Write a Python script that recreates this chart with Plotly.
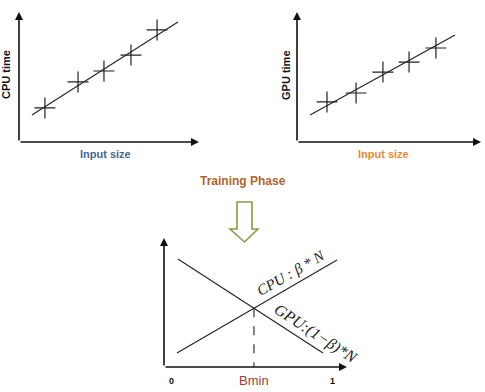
import numpy as np
import plotly.graph_objects as go

W, H = 485, 392

# ---- data ----
cpu_size = [1.44, 3.28, 4.72, 6.22, 7.67]
cpu_time = [2.62, 4.62, 5.46, 6.69, 8.62]
cpu_fit_x = [0.72, 8.83]
cpu_fit_y = [2.08, 9.23]

gpu_size = [1.63, 3.21, 4.67, 6.09, 7.55]
gpu_time = [3.08, 3.77, 5.38, 6.15, 7.23]
gpu_fit_x = [0.71, 8.59]
gpu_fit_y = [2.08, 8.23]

beta_cpu = [0.037, 1.031]
load_cpu = [0.109, 0.829]
beta_gpu = [0.043, 0.944]
load_gpu = [0.837, 0.109]

beta_ticks = [0, 1]
beta_ticktext = ["0", "1"]

# intersection (B_min)
m1 = (load_cpu[1] - load_cpu[0]) / (beta_cpu[1] - beta_cpu[0])
m2 = (load_gpu[1] - load_gpu[0]) / (beta_gpu[1] - beta_gpu[0])
c1 = load_cpu[0] - m1 * beta_cpu[0]
c2 = load_gpu[0] - m2 * beta_gpu[0]
b_min = (c2 - c1) / (m1 - m2)
l_min = m1 * b_min + c1


def px(x):
    return x / W


def py(y):
    return 1 - y / H


fig = go.Figure()

line_style = dict(color="#222222", width=1.1)
cross = dict(symbol="cross-thin", size=15, line=dict(color="#222222", width=1.2))

fig.add_trace(go.Scatter(x=cpu_fit_x, y=cpu_fit_y, mode="lines", line=line_style,
                         xaxis="x", yaxis="y", hoverinfo="skip"))
fig.add_trace(go.Scatter(x=cpu_size, y=cpu_time, mode="markers", marker=cross,
                         xaxis="x", yaxis="y"))
fig.add_trace(go.Scatter(x=gpu_fit_x, y=gpu_fit_y, mode="lines", line=line_style,
                         xaxis="x2", yaxis="y2", hoverinfo="skip"))
fig.add_trace(go.Scatter(x=gpu_size, y=gpu_time, mode="markers", marker=cross,
                         xaxis="x2", yaxis="y2"))
fig.add_trace(go.Scatter(x=beta_cpu, y=load_cpu, mode="lines", line=line_style,
                         xaxis="x3", yaxis="y3"))
fig.add_trace(go.Scatter(x=beta_gpu, y=load_gpu, mode="lines", line=line_style,
                         xaxis="x3", yaxis="y3"))
fig.add_trace(go.Scatter(x=[b_min, b_min], y=[l_min, 0], mode="lines",
                         line=dict(color="#222222", width=1.1, dash="dash"),
                         xaxis="x3", yaxis="y3"))

hidden = dict(showgrid=False, zeroline=False, showticklabels=False,
              showline=False, ticks="")
x3_lo = -7 / 161
x3_hi = 176 / 161
fig.update_layout(
    width=W, height=H, margin=dict(l=0, r=0, t=0, b=0),
    paper_bgcolor="white", plot_bgcolor="white", showlegend=False,
    xaxis=dict(domain=[px(19), px(199)], range=[0, 10], **hidden),
    yaxis=dict(domain=[py(142), py(12)], range=[0, 10], **hidden),
    xaxis2=dict(domain=[px(297), px(481)], range=[0, 10], anchor="y2", **hidden),
    yaxis2=dict(domain=[py(142), py(12)], range=[0, 10], anchor="x2", **hidden),
    xaxis3=dict(domain=[px(164), px(347)], range=[x3_lo, x3_hi], anchor="y3", **hidden),
    yaxis3=dict(domain=[py(367), py(238)], range=[0, 1], anchor="x3", **hidden),
)

ann = []
arrow = dict(text="", showarrow=True, arrowhead=2, arrowsize=1, arrowwidth=1.6,
             arrowcolor="#111111", standoff=0, startstandoff=0)
for xa, ya, xr, yr in [("x", "y", (0, 10), (0, 10)),
                       ("x2", "y2", (0, 10), (0, 10)),
                       ("x3", "y3", (x3_lo, x3_hi), (0, 1))]:
    ann.append(dict(xref=xa, yref=ya, axref=xa, ayref=ya, x=xr[0], y=yr[1],
                    ax=xr[0], ay=yr[0], **arrow))
    ann.append(dict(xref=xa, yref=ya, axref=xa, ayref=ya, x=xr[1], y=yr[0],
                    ax=xr[0], ay=yr[0], **arrow))

sans = "Liberation Sans, Arial, sans-serif"
C = dict(xanchor="center", yanchor="middle", showarrow=False)


def label(x, y, text, size, color, family=sans, angle=0, xref="paper"):
    ann.append(dict(xref=xref, yref="paper", x=x, y=y, text=text, textangle=angle,
                    font=dict(family=family, size=size, color=color), **C))


label(px(6), py(75), "<b>CPU time</b>", 11, "#111111", angle=-90)
label(px(286), py(75), "<b>GPU time</b>", 11, "#111111", angle=-90)
label(px(105), py(154), "<b>Input size</b>", 11, "#4a6794")
label(px(383), py(154), "<b>Input size</b>", 11, "#ea8a30")
label(px(243), py(181), "<b>Training Phase</b>", 12, "#b0652f")

for t, tt in zip(beta_ticks, beta_ticktext):
    label(t, py(381), "<b>" + tt + "</b>", 9, "#111111", xref="x3")
label(b_min, py(380), "Bmin", 13, "#a33b35", xref="x3")

serif = "Liberation Serif, Times New Roman, serif"
label(px(291), py(273), "<i>CPU : β * N</i>", 15, "#222222", family=serif, angle=-30)
label(px(316), py(334), "<i>GPU:(1−β)*N</i>", 16, "#222222", family=serif, angle=33)

fig.update_layout(annotations=ann)

# hollow down arrow (decoration)
pts = [(237, 202), (252, 202), (252, 229), (258, 229), (244.5, 242), (230, 229), (237, 229)]
path = "M " + " L ".join(f"{px(x):.5f},{py(y):.5f}" for x, y in pts) + " Z"
fig.add_shape(type="path", xref="paper", yref="paper", path=path,
              line=dict(color="#8a9a48", width=1.6), fillcolor="rgba(0,0,0,0)")

fig.write_html("out.html")
